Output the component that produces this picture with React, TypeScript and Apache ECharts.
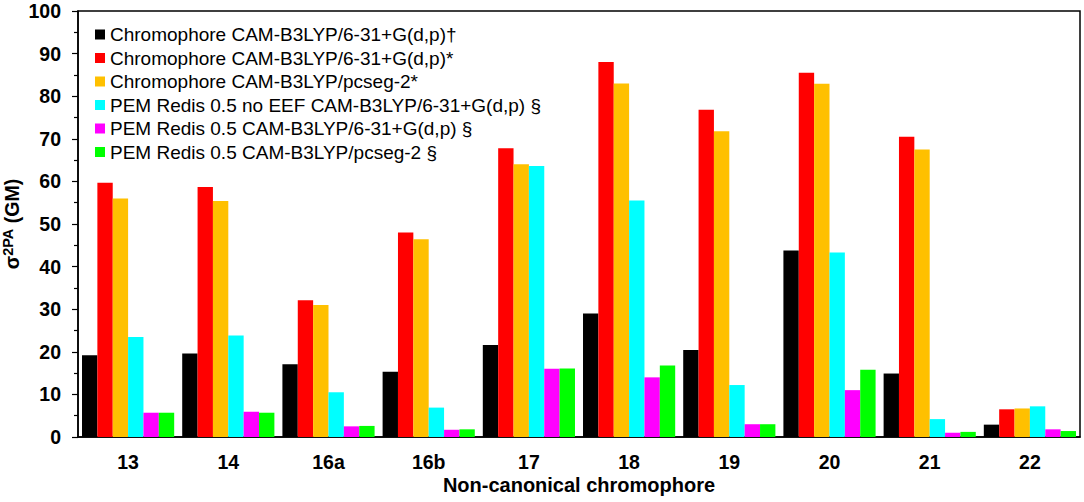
import React, { useEffect, useRef } from "react";
import * as echarts from "echarts";

const categories = ["13", "14", "16a", "16b", "17", "18", "19", "20", "21", "22"];

const seriesNames = [
  "Chromophore CAM-B3LYP/6-31+G(d,p)†",
  "Chromophore CAM-B3LYP/6-31+G(d,p)*",
  "Chromophore CAM-B3LYP/pcseg-2*",
  "PEM Redis 0.5 no EEF CAM-B3LYP/6-31+G(d,p) §",
  "PEM Redis 0.5 CAM-B3LYP/6-31+G(d,p) §",
  "PEM Redis 0.5 CAM-B3LYP/pcseg-2 §",
];

const xAxisTitle = "Non-canonical chromophore";
const yAxisTitle = "{s|σ}{p|2PA}{s| (GM)}";

const chromB3lyp631Dagger = [19.2, 19.6, 17.1, 15.3, 21.6, 29.0, 20.4, 43.8, 14.9, 2.9];
const chromB3lyp631Star = [59.7, 58.7, 32.1, 48.0, 67.8, 88.0, 76.8, 85.5, 70.5, 6.5];
const chromPcseg2Star = [56.0, 55.4, 31.0, 46.4, 64.0, 83.0, 71.8, 82.9, 67.5, 6.7];
const pemNoEef631 = [23.5, 23.8, 10.5, 6.9, 63.6, 55.5, 12.2, 43.3, 4.2, 7.2];
const pem631 = [5.7, 5.9, 2.5, 1.7, 16.0, 14.0, 3.0, 11.0, 1.0, 1.8];
const pemPcseg2 = [5.7, 5.7, 2.6, 1.8, 16.1, 16.8, 3.0, 15.8, 1.2, 1.4];

const seriesData = [
  chromB3lyp631Dagger,
  chromB3lyp631Star,
  chromPcseg2Star,
  pemNoEef631,
  pem631,
  pemPcseg2,
];

const colors = ["#000000", "#FF0000", "#FFC000", "#00FFFF", "#FF00FF", "#00FF00"];

const FONT = "'Liberation Sans', Arial, sans-serif";

export default function App() {
  const ref = useRef<HTMLDivElement>(null);

  useEffect(() => {
    if (!ref.current) return;
    const chart = echarts.init(ref.current, null, { renderer: "svg" });
    chart.setOption({
      animation: false,
      backgroundColor: "#ffffff",
      textStyle: { fontFamily: FONT },
      legend: {
        orient: "vertical",
        left: 90,
        top: 20,
        icon: "rect",
        itemWidth: 10,
        itemHeight: 10,
        itemGap: 4.5,
        textStyle: { fontSize: 19, color: "#000", fontFamily: FONT },
        data: seriesNames,
      },
      grid: {
        left: 78,
        right: 4,
        top: 11,
        bottom: 65,
        show: true,
        borderColor: "#000",
        borderWidth: 1.5,
        containLabel: false,
        outerBoundsMode: "none",
      },
      graphic: [
        {
          type: "text",
          x: 579,
          y: 485,
          style: {
            text: xAxisTitle,
            fontSize: 20,
            fontWeight: "bold",
            fontFamily: FONT,
            fill: "#000",
            align: "center",
            verticalAlign: "middle",
          },
        },
        {
          type: "text",
          x: 11,
          y: 224,
          rotation: Math.PI / 2,
          style: {
            text: yAxisTitle,
            fontFamily: FONT,
            fill: "#000",
            align: "center",
            verticalAlign: "middle",
            rich: {
              s: { fontSize: 19.5, fontWeight: "bold", fill: "#000", fontFamily: FONT, verticalAlign: "bottom", lineHeight: 22 },
              p: { fontSize: 14.5, fontWeight: "bold", fill: "#000", fontFamily: FONT, verticalAlign: "top", lineHeight: 14 },
            },
          },
        },
      ],
      xAxis: {
        type: "category",
        data: categories,
        axisLine: { lineStyle: { color: "#000", width: 1.5 } },
        axisTick: { show: false },
        axisLabel: {
          fontSize: 19.5,
          fontWeight: "bold",
          color: "#000",
          margin: 15,
          fontFamily: FONT,
        },
      },
      yAxis: {
        type: "value",
        min: 0,
        max: 100,
        interval: 10,
        axisLine: { show: true, lineStyle: { color: "#000", width: 1.5 } },
        axisTick: { show: true, length: 6, lineStyle: { color: "#000", width: 1.2 } },
        minorTick: { show: true, splitNumber: 2, length: 4, lineStyle: { color: "#000", width: 1.2 } },
        splitLine: { show: false },
        axisLabel: {
          fontSize: 19.5,
          fontWeight: "bold",
          color: "#000",
          margin: 17,
          fontFamily: FONT,
        },
      },
      series: seriesNames.map((name, i) => ({
        name,
        type: "bar",
        data: seriesData[i],
        barGap: "0%",
        barCategoryGap: "8%",
        itemStyle: { color: colors[i] },
      })),
    });
    return () => chart.dispose();
  }, []);

  return (
    <div
      ref={ref}
      style={{ position: "fixed", left: 0, top: 0, width: 1084, height: 502 }}
    />
  );
}
